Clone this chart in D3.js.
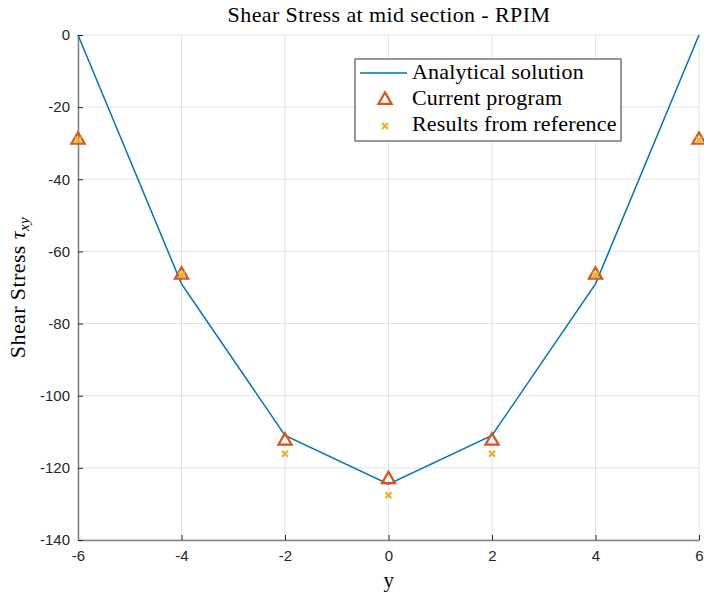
<!DOCTYPE html>
<html>
<head>
<meta charset="utf-8">
<script src="https://cdn.jsdelivr.net/npm/d3@7"></script>
<style>
  body { margin: 0; background: #fff; }
  .tick text { font-family: "Liberation Sans", Arial, sans-serif; font-size: 15px; fill: #262626; }
  .serif { font-family: "Liberation Serif", "DejaVu Serif", serif; fill: #000; letter-spacing: 0.4px; }
</style>
</head>
<body>
<div id="chart"></div>
<script>
// data
var yPos = [-6, -4, -2, 0, 2, 4, 6];
var analytical = [0, -69, -111, -124.5, -111, -69, 0];
var currentProgram = [-29.1, -66.5, -112.5, -123.2, -112.5, -66.5, -29.1];
var reference = [-29.1, -66.5, -116.1, -127.6, -116.1, -66.5, -29.1];
var xTicks = [-6, -4, -2, 0, 2, 4, 6];
var yTicks = [0, -20, -40, -60, -80, -100, -120, -140];
var legendLabels = ['Analytical solution', 'Current program', 'Results from reference'];

var W = 704, H = 593;
var margin = { top: 35, right: 5, bottom: 53, left: 78 };
var width = W - margin.left - margin.right;
var height = H - margin.top - margin.bottom;

var blue = '#0072BD', orange = '#D95319', yellow = '#EDB120';
var fs = 22;

var xScale = d3.scaleLinear().domain([-6, 6]).range([0, width]);
var yScale = d3.scaleLinear().domain([-140, 0]).range([height, 0]);

var svg = d3.select('#chart').append('svg')
  .attr('width', W)
  .attr('height', H);
var chart = svg.append('g')
  .attr('transform', 'translate(' + margin.left + ',' + margin.top + ')');

// Grid
chart.selectAll('.gx').data(xTicks).enter().append('line')
  .attr('x1', function(d) { return xScale(d); })
  .attr('x2', function(d) { return xScale(d); })
  .attr('y1', 0).attr('y2', height)
  .attr('stroke', '#e3e3e3').attr('stroke-width', 1);
chart.selectAll('.gy').data(yTicks).enter().append('line')
  .attr('y1', function(d) { return yScale(d); })
  .attr('y2', function(d) { return yScale(d); })
  .attr('x1', 0).attr('x2', width)
  .attr('stroke', '#e3e3e3').attr('stroke-width', 1);

// Axes
var fmt = function(d) { return String(d); };
var xAxis = d3.axisBottom(xScale).tickValues(xTicks).tickFormat(fmt).tickSize(-5).tickPadding(9).tickSizeOuter(0);
var gx = chart.append('g').attr('transform', 'translate(0,' + height + ')').call(xAxis);
var yAxis = d3.axisLeft(yScale).tickValues(yTicks).tickFormat(fmt).tickSize(-5).tickPadding(8).tickSizeOuter(0);
var gy = chart.append('g').call(yAxis);
[gx, gy].forEach(function(g) {
  g.select('.domain').attr('stroke', '#808080').attr('stroke-width', 1.5);
  g.selectAll('.tick line').attr('stroke', '#262626');
});
gx.selectAll('.tick text').attr('dy', '0.8em');

// Analytical line
var line = d3.line()
  .x(function(d, i) { return xScale(yPos[i]); })
  .y(function(d) { return yScale(d); });
chart.append('path')
  .datum(analytical)
  .attr('d', line)
  .attr('fill', 'none')
  .attr('stroke', blue)
  .attr('stroke-width', 1.5);

var tri = d3.symbol().type(d3.symbolTriangle).size(75);
function cross(g) {
  g.append('path').attr('d', 'M-3,-3L3,3M-3,3L3,-3')
    .attr('stroke', yellow).attr('stroke-width', 2.2).attr('fill', 'none');
}

chart.selectAll('.tri').data(currentProgram).enter().append('path')
  .attr('transform', function(d, i) { return 'translate(' + xScale(yPos[i]) + ',' + yScale(d) + ')'; })
  .attr('d', tri)
  .attr('fill', 'none')
  .attr('stroke', orange)
  .attr('stroke-width', 2.2);

chart.selectAll('.crs').data(reference).enter().append('g')
  .attr('transform', function(d, i) { return 'translate(' + xScale(yPos[i]) + ',' + yScale(d) + ')'; })
  .each(function() { cross(d3.select(this)); });

// Title and labels
svg.append('text').attr('class', 'serif')
  .attr('x', 389).attr('y', 22)
  .attr('text-anchor', 'middle')
  .style('font-size', fs + 'px')
  .text('Shear Stress at mid section - RPIM');
svg.append('text').attr('class', 'serif')
  .attr('x', 389).attr('y', 587)
  .attr('text-anchor', 'middle')
  .style('font-size', '21px')
  .text('y');
var yl = svg.append('text').attr('class', 'serif')
  .attr('transform', 'translate(25,' + (margin.top + height / 2) + ') rotate(-90)')
  .attr('text-anchor', 'middle')
  .style('font-size', fs + 'px');
yl.append('tspan').text('Shear Stress ');
yl.append('tspan').style('font-style', 'italic').text('τ');
yl.append('tspan').style('font-style', 'italic').style('font-size', '15px').attr('dy', 4).text('xy');

// Legend
var lg = svg.append('g').attr('transform', 'translate(355,59)');
lg.append('rect').attr('width', 266).attr('height', 82)
  .attr('fill', '#fff').attr('stroke', '#333').attr('stroke-width', 1);
lg.selectAll('.lt').data(legendLabels).enter().append('text')
  .attr('class', 'serif')
  .attr('x', 57)
  .attr('y', function(d, i) { return 20 + i * 26; })
  .style('font-size', fs + 'px')
  .style('letter-spacing', '0.2px')
  .text(function(d) { return d; });
lg.append('line').attr('x1', 5).attr('x2', 52).attr('y1', 14).attr('y2', 14)
  .attr('stroke', blue).attr('stroke-width', 1.5);
lg.append('path').attr('transform', 'translate(30,41)').attr('d', tri)
  .attr('fill', 'none').attr('stroke', orange).attr('stroke-width', 2.2);
cross(lg.append('g').attr('transform', 'translate(30,67)'));
</script>
</body>
</html>
